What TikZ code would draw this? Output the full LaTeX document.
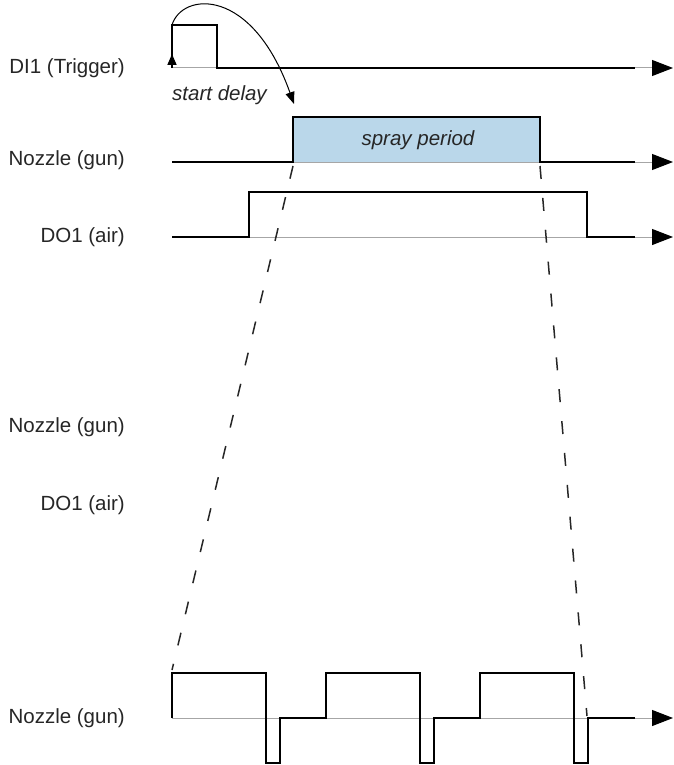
\documentclass[tikz,border=0pt]{standalone}
\usepackage{fontspec}
\setmainfont{Liberation Sans}
\usetikzlibrary{arrows.meta}
\definecolor{spraybg}{RGB}{186,215,234}

\begin{document}
\begin{tikzpicture}[x=1pt,y=-1pt,
  lbl/.style = {anchor=east,inner sep=0pt,text=black!85,font=\fontsize{20.5}{24}\selectfont},
  axis/.style = {gray!70,line width=1pt,-{Triangle[length=21pt,width=16pt,color=black,fill=black]}},
  sig/.style = {line width=2.8pt,line join=miter},
  zoomline/.style = {black!85,line width=1.5pt,dash pattern=on 13pt off 19pt}]
\useasboundingbox (0,0) rectangle (673,765);
% row labels
\foreach \t/\y/\n in {DI1 (Trigger)/68/ltrig, Nozzle (gun)/160/lnoz, DO1 (air)/237/lair,
                      Nozzle (gun)/427/lnozb, DO1 (air)/505/lairb, Nozzle (gun)/718/lpuls}
    \node[lbl] (\n) at (125,\y) {\t};
% time axes
\foreach \y/\n in {68/trig, 162/noz, 237/air, 718/puls} {
    \coordinate (\n0) at (172,\y);
    \coordinate (\n1) at (673,\y);
    \draw[axis] (\n0) -- (\n1);
}
% spray period
\coordinate (sprayL) at (293,162);
\coordinate (sprayR) at (540,162);
\fill[spraybg] (293,117) rectangle (sprayR);
\node[lbl,anchor=center,font=\fontsize{20.5}{24}\selectfont\itshape] (spray) at (418,140) {spray period};
% signals
\draw[sig] (trig0) -- (172,25) -- (217,25) -- (217,68) -- (635,68);
\draw[line width=1.6pt,-{Triangle[length=11pt,width=9pt]}] (trig0) -- (172,54);
\draw[sig] (noz0) -- (sprayL) -- (293,117) -- (540,117) -- (sprayR) -- (635,162);
\draw[sig] (air0) -- (249,237) -- (249,192) -- (587,192) -- (587,237) -- (635,237);
\foreach \x in {172,326,480}
    \draw[sig] (\x,718) -- (\x,673) -- ++(94,0) -- ++(0,90) -- ++(14,0) -- ++(0,-45) -- ++(47,0);
% start delay
\coordinate (trigup) at (172,25);
\coordinate (delayend) at (294,104);
\draw[line width=1pt,-{Triangle[length=12pt,width=9pt]}] (trigup) .. controls (182,-8) and (252,-14) .. (delayend);
\node[lbl,anchor=west,font=\fontsize{20.5}{24}\selectfont\itshape] (delay) at (172,95) {start delay};
% zoom lines
\coordinate (pulsL) at (172,670);
\coordinate (pulsR) at (587,716);
\draw[zoomline] (sprayL) ++(0,4) -- (pulsL);
\draw[zoomline] (sprayR) ++(0,4) -- (pulsR);
\end{tikzpicture}
\end{document}
